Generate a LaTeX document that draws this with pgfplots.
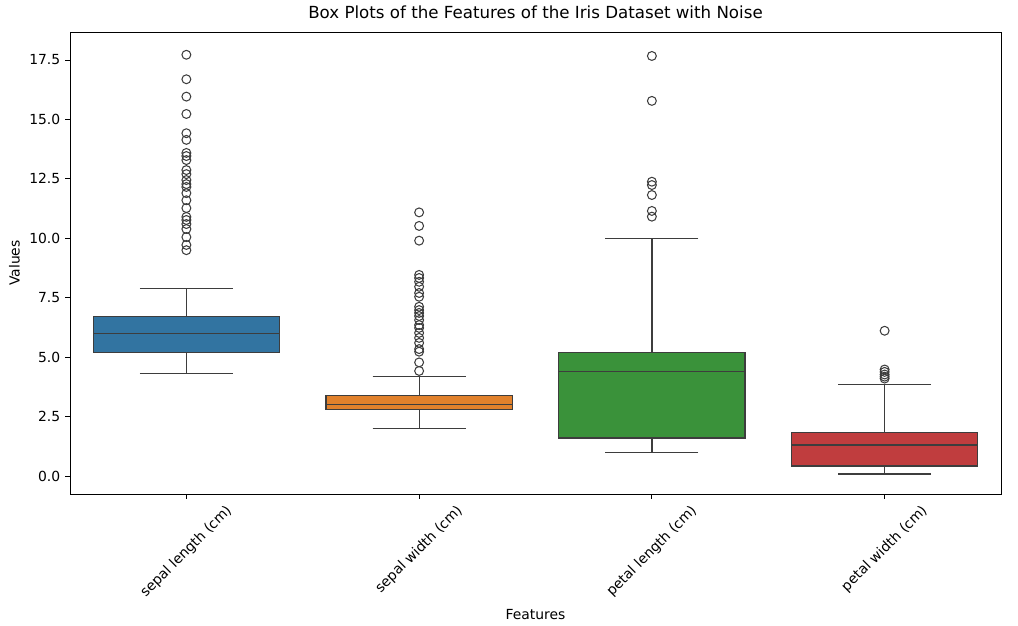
\documentclass[border=0pt]{standalone}
\usepackage{fontspec}
\setmainfont{DejaVu Sans}
\usepackage{graphicx}
\usepackage{pgfplots}
\usepgfplotslibrary{statistics}
\pgfplotsset{compat=1.18}
\definecolor{cblue}{HTML}{3274A1}
\definecolor{corange}{HTML}{E1812C}
\definecolor{cgreen}{HTML}{3A923A}
\definecolor{cred}{HTML}{C03D3E}
\definecolor{edge}{HTML}{3D3D3D}
\pgfplotsset{
  sbox/.style={draw=edge, fill=#1, line width=0.9pt, solid, mark=o, mark size=3.2pt,
    mark options={draw=edge, fill=none, line width=0.75pt, solid},
    boxplot/every box/.style={draw=edge, fill=#1, line width=0.9pt},
    boxplot/every whisker/.style={draw=edge, line width=0.9pt},
    boxplot/every median/.style={draw=edge, line width=0.9pt}},
}
\begin{document}
\begin{tikzpicture}
\path[use as bounding box] (-50.4pt,-94.32pt) rectangle (682.56pt,355.68pt);
\begin{axis}[
  at={(0,0)}, anchor=south west,
  scale only axis, width=670.32pt, height=332.64pt,
  xmin=-0.5, xmax=3.5, ymin=-0.757, ymax=18.678,
  xtick={0,1,2,3},
  xticklabels={\rotatebox{45}{sepal length (cm)},\rotatebox{45}{sepal width (cm)},\rotatebox{45}{petal length (cm)},\rotatebox{45}{petal width (cm)}},
  ytick={0,2.5,5,7.5,10,12.5,15,17.5},
  yticklabel style={/pgf/number format/.cd, fixed, fixed zerofill, precision=1, assume math mode=true},
  tick align=outside, tick pos=left,
  major tick length=3.5pt,
  every tick/.style={black, line width=0.6pt},
  axis line style={line width=0.6pt},
  tick label style={font=\fontsize{10}{12}\selectfont},
  label style={font=\fontsize{10}{12}\selectfont},
  title style={font=\fontsize{12}{14}\selectfont},
  title={Box Plots of the Features of the Iris Dataset with Noise},
  xlabel={Features}, ylabel={Values},
  boxplot/draw direction=y,
  boxplot/box extend=0.8, boxplot/whisker extend=0.4,
]
\addplot[sbox=cblue, boxplot prepared={draw position=0, median=6.0, upper quartile=6.7, lower quartile=5.2, upper whisker=7.9, lower whisker=4.3}]
 coordinates {(0,17.72) (0,16.69) (0,15.96) (0,15.23) (0,14.42) (0,14.14) (0,13.59) (0,13.46) (0,13.29) (0,12.87) (0,12.70) (0,12.45) (0,12.28) (0,12.16) (0,11.90) (0,11.60) (0,11.27) (0,10.90) (0,10.77) (0,10.60) (0,10.39) (0,10.05) (0,9.72) (0,9.50)};
\addplot[sbox=corange, boxplot prepared={draw position=1, median=3.0, upper quartile=3.4, lower quartile=2.8, upper whisker=4.2, lower whisker=2.0}]
 coordinates {(1,11.09) (1,10.52) (1,9.90) (1,8.46) (1,8.33) (1,8.17) (1,7.96) (1,7.70) (1,7.54) (1,7.12) (1,6.98) (1,6.86) (1,6.73) (1,6.56) (1,6.35) (1,6.23) (1,6.02) (1,5.81) (1,5.60) (1,5.34) (1,5.23) (1,4.78) (1,4.42)};
\addplot[sbox=cgreen, boxplot prepared={draw position=2, median=4.4, upper quartile=5.2, lower quartile=1.6, upper whisker=10.0, lower whisker=1.0}]
 coordinates {(2,17.67) (2,15.78) (2,12.38) (2,12.24) (2,11.82) (2,11.15) (2,10.91)};
\addplot[sbox=cred, boxplot prepared={draw position=3, median=1.3, upper quartile=1.82, lower quartile=0.42, upper whisker=3.86, lower whisker=0.08}]
 coordinates {(3,6.11) (3,4.48) (3,4.38) (3,4.27) (3,4.18) (3,4.10)};
\end{axis}
\end{tikzpicture}
\end{document}
